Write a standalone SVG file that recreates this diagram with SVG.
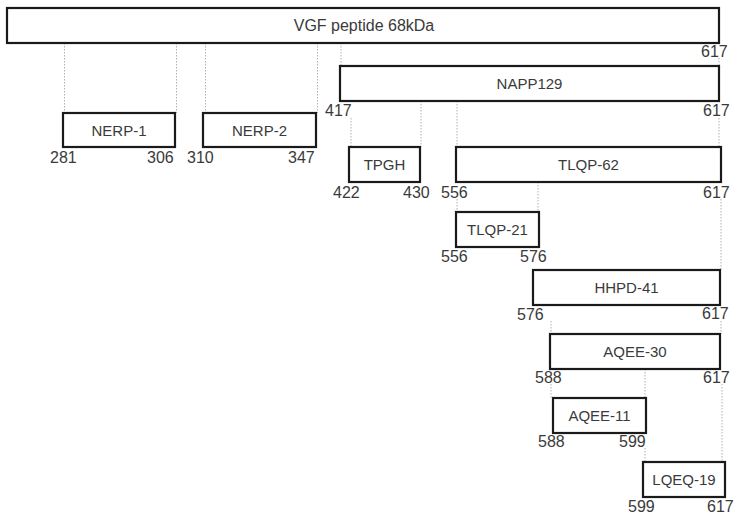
<svg xmlns="http://www.w3.org/2000/svg" width="738" height="521" viewBox="0 0 738 521">
<style>
.box{fill:#fff;stroke:#1a1a1a;stroke-width:2.2}
.lbl{font-family:"Liberation Sans",Arial,sans-serif;font-size:15px;fill:#3a3a3a;text-anchor:middle}
.top{font-size:16px}
.num{font-family:"Liberation Sans",Arial,sans-serif;font-size:16px;fill:#3a3a3a}
.dot{stroke:#b0b0b0;stroke-width:1;stroke-dasharray:1.5 1.5;fill:none}
</style>
<rect width="738" height="521" fill="#fff"/>
<g id="connectors">
<path class="dot" d="M64.5 43V113M176.5 43V113M205.5 43V113M317.5 43V113M341 43V66M719 58V66M351 118V147M421 101V147M457 101V147M719 118V147M457 199V212M538 182V212M721 199V270M551 321V334M721 321V334M551 384V398M645 369V398M645 448V462M722 384V462"/>
</g>
<g id="vgf">
<rect class="box" x="7" y="8" width="712" height="35"/>
<text class="lbl top" x="364" y="31">VGF peptide 68kDa</text>
<text class="num" x="701" y="57">617</text>
</g>
<g id="napp129">
<rect class="box" x="340" y="66" width="379" height="35"/>
<text class="lbl" x="529.5" y="89">NAPP129</text>
<text class="num" x="325" y="116">417</text>
<text class="num" x="703" y="116">617</text>
</g>
<g id="nerp1">
<rect class="box" x="63" y="113" width="112" height="34"/>
<text class="lbl" x="119" y="136">NERP-1</text>
<text class="num" x="50" y="163">281</text>
<text class="num" x="147" y="163">306</text>
</g>
<g id="nerp2">
<rect class="box" x="203" y="113" width="113" height="34"/>
<text class="lbl" x="259.5" y="136">NERP-2</text>
<text class="num" x="187" y="163">310</text>
<text class="num" x="288" y="163">347</text>
</g>
<g id="tpgh">
<rect class="box" x="349" y="147" width="71" height="35"/>
<text class="lbl" x="384.5" y="170">TPGH</text>
<text class="num" x="333" y="198">422</text>
<text class="num" x="403" y="198">430</text>
</g>
<g id="tlqp62">
<rect class="box" x="456" y="147" width="265" height="35"/>
<text class="lbl" x="588.5" y="170">TLQP-62</text>
<text class="num" x="441" y="198">556</text>
<text class="num" x="703" y="198">617</text>
</g>
<g id="tlqp21">
<rect class="box" x="456" y="212" width="83" height="35"/>
<text class="lbl" x="497.5" y="235">TLQP-21</text>
<text class="num" x="441" y="262">556</text>
<text class="num" x="520" y="262">576</text>
</g>
<g id="hhpd41">
<rect class="box" x="533" y="270" width="187" height="35"/>
<text class="lbl" x="626.5" y="293">HHPD-41</text>
<text class="num" x="517" y="320">576</text>
<text class="num" x="702" y="319">617</text>
</g>
<g id="aqee30">
<rect class="box" x="550" y="334" width="170" height="35"/>
<text class="lbl" x="635" y="357">AQEE-30</text>
<text class="num" x="535" y="383">588</text>
<text class="num" x="703" y="383">617</text>
</g>
<g id="aqee11">
<rect class="box" x="553" y="398" width="93" height="35"/>
<text class="lbl" x="599.5" y="421">AQEE-11</text>
<text class="num" x="538" y="447">588</text>
<text class="num" x="619" y="447">599</text>
</g>
<g id="lqeq19">
<rect class="box" x="643" y="462" width="82" height="35"/>
<text class="lbl" x="684" y="485">LQEQ-19</text>
<text class="num" x="628" y="512">599</text>
<text class="num" x="707" y="512">617</text>
</g>
</svg>
